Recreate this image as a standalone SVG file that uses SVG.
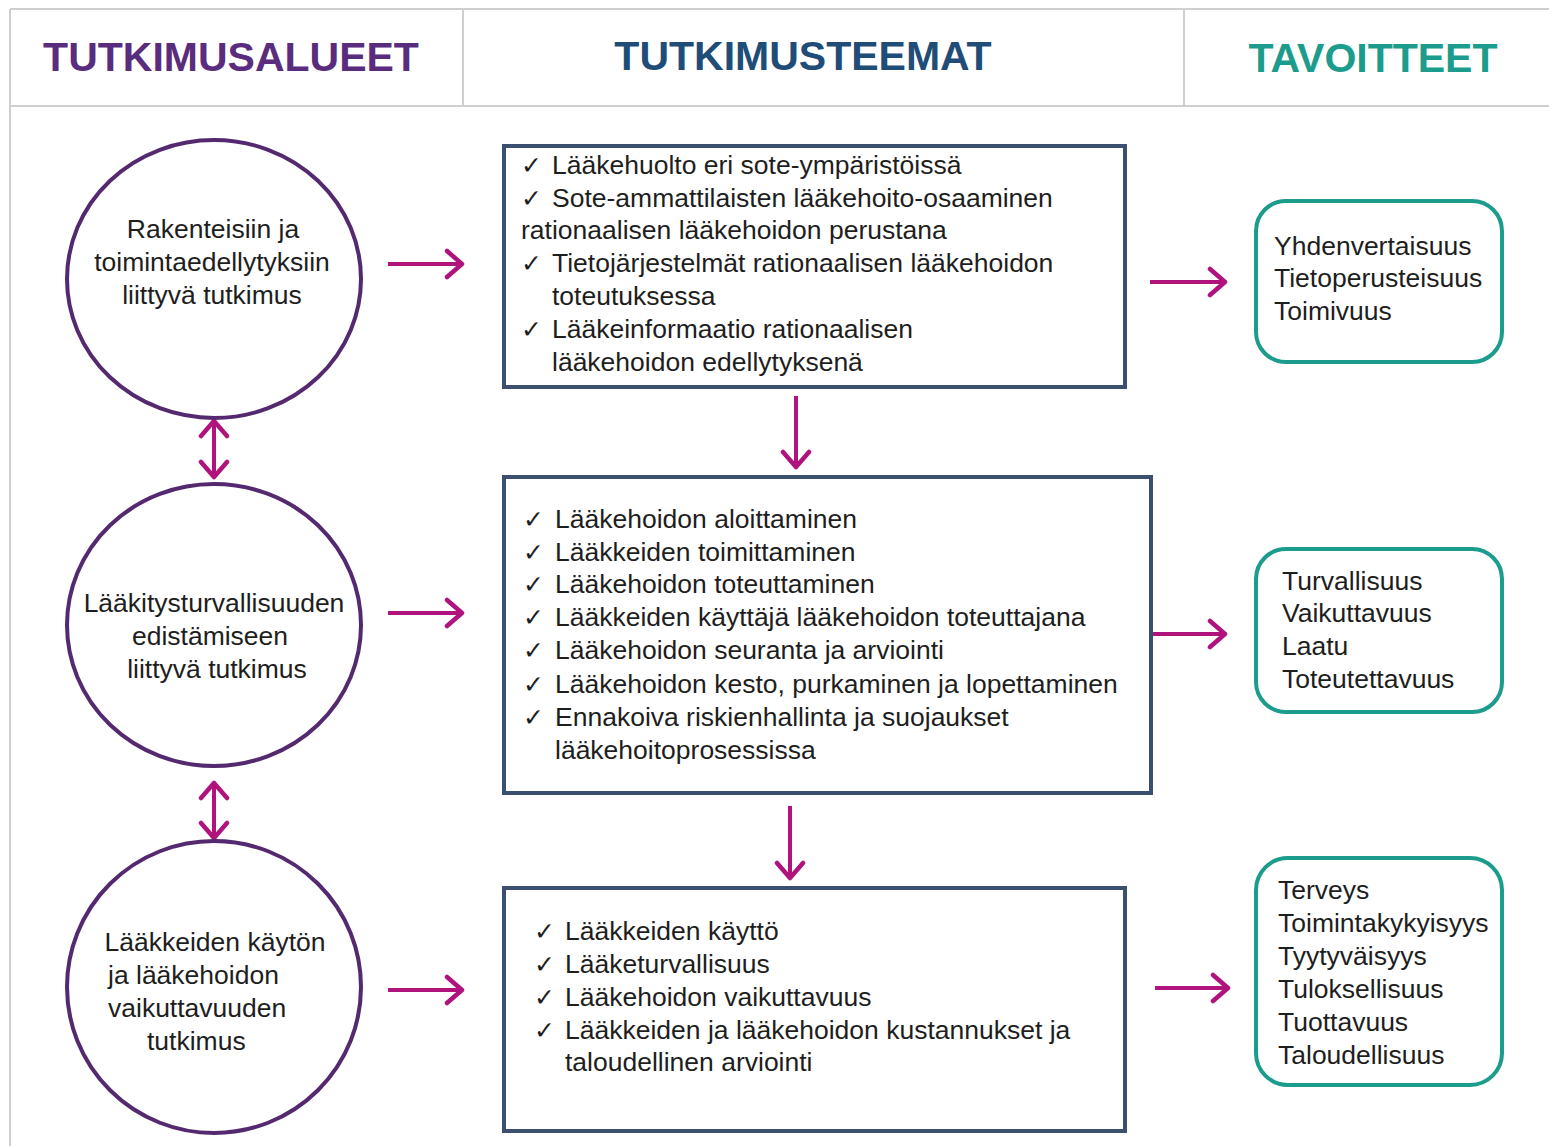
<svg xmlns="http://www.w3.org/2000/svg" width="1549" height="1146" viewBox="0 0 1549 1146">
<style>
.hdr{font-family:"Liberation Sans",Arial,sans-serif;font-weight:bold;font-size:41px;text-anchor:middle}
.t{font-family:"Liberation Sans",Arial,sans-serif;font-size:26.5px;fill:#1e1e1e}
.c{text-anchor:middle}
.chk{font-family:"DejaVu Sans",sans-serif;font-size:25px}
.circ{fill:#fff;stroke:#55296f;stroke-width:4}
.box{fill:#fff;stroke:#3b4f70;stroke-width:4}
.goal{fill:#fff;stroke:#1c9c8c;stroke-width:4}
.grid{stroke:#cfcfcf;stroke-width:2;fill:none}
.arr{stroke:#b0147c;stroke-width:4;fill:none}
</style>
<defs>
<marker id="ah" markerUnits="userSpaceOnUse" markerWidth="24" markerHeight="32" viewBox="0 0 24 32" refX="21" refY="16" orient="auto-start-reverse">
<path d="M6,3 L21,16 L6,29" fill="none" stroke="#b0147c" stroke-width="4.5" stroke-linecap="round" stroke-linejoin="round"/>
</marker>
</defs>
<rect width="1549" height="1146" fill="#fff"/>
<g id="header">
<path class="grid" d="M10,9 H1549 M10,106 H1549 M10,9 V1146 M463,9 V106 M1184,9 V106"/>
<text class="hdr" x="231" y="71" fill="#5a2c7e">TUTKIMUSALUEET</text>
<text class="hdr" x="803" y="70" fill="#1f4d78">TUTKIMUSTEEMAT</text>
<text class="hdr" x="1373" y="72" fill="#1c9c8c">TAVOITTEET</text>
</g>
<g id="connectors">
<line class="arr" x1="388" y1="264" x2="462" y2="264" marker-end="url(#ah)"/>
<line class="arr" x1="388" y1="613" x2="462" y2="613" marker-end="url(#ah)"/>
<line class="arr" x1="388" y1="990" x2="462" y2="990" marker-end="url(#ah)"/>
<line class="arr" x1="1150" y1="282" x2="1225" y2="282" marker-end="url(#ah)"/>
<line class="arr" x1="1153" y1="634" x2="1225" y2="634" marker-end="url(#ah)"/>
<line class="arr" x1="1155" y1="988" x2="1228" y2="988" marker-end="url(#ah)"/>
<line class="arr" x1="796" y1="396" x2="796" y2="467" marker-end="url(#ah)"/>
<line class="arr" x1="790" y1="806" x2="790" y2="878" marker-end="url(#ah)"/>
<line class="arr" x1="214" y1="421" x2="214" y2="477" marker-start="url(#ah)" marker-end="url(#ah)"/>
<line class="arr" x1="214" y1="783" x2="214" y2="838" marker-start="url(#ah)" marker-end="url(#ah)"/>
</g>
<g id="area1">
<ellipse class="circ" cx="214" cy="279" rx="147" ry="139"/>
<text class="t c" x="213" y="238">Rakenteisiin ja</text>
<text class="t c" x="212" y="271">toimintaedellytyksiin</text>
<text class="t c" x="212" y="304">liittyvä tutkimus</text>
</g>
<g id="area2">
<ellipse class="circ" cx="214" cy="625" rx="147" ry="141"/>
<text class="t c" x="214" y="612">Lääkitysturvallisuuden</text>
<text class="t c" x="210" y="645">edistämiseen</text>
<text class="t c" x="217" y="678">liittyvä tutkimus</text>
</g>
<g id="area3">
<ellipse class="circ" cx="214" cy="987" rx="147" ry="146"/>
<text class="t c" x="215" y="951">Lääkkeiden käytön</text>
<text class="t" x="108" y="984">ja lääkehoidon</text>
<text class="t" x="108" y="1017">vaikuttavuuden</text>
<text class="t" x="147" y="1050">tutkimus</text>
</g>
<g id="theme1">
<rect class="box" x="504" y="146" width="621" height="241"/>
<text class="t" y="174"><tspan class="chk" x="521">✓</tspan><tspan x="552">Lääkehuolto eri sote-ympäristöissä</tspan></text>
<text class="t" y="207"><tspan class="chk" x="521">✓</tspan><tspan x="552">Sote-ammattilaisten lääkehoito-osaaminen</tspan></text>
<text class="t" x="521" y="239">rationaalisen lääkehoidon perustana</text>
<text class="t" y="272"><tspan class="chk" x="521">✓</tspan><tspan x="552">Tietojärjestelmät rationaalisen lääkehoidon</tspan></text>
<text class="t" x="552" y="305">toteutuksessa</text>
<text class="t" y="338"><tspan class="chk" x="521">✓</tspan><tspan x="552">Lääkeinformaatio rationaalisen</tspan></text>
<text class="t" x="552" y="371">lääkehoidon edellytyksenä</text>
</g>
<g id="theme2">
<rect class="box" x="504" y="477" width="647" height="316"/>
<text class="t" y="528"><tspan class="chk" x="523">✓</tspan><tspan x="555">Lääkehoidon aloittaminen</tspan></text>
<text class="t" y="561"><tspan class="chk" x="523">✓</tspan><tspan x="555">Lääkkeiden toimittaminen</tspan></text>
<text class="t" y="593"><tspan class="chk" x="523">✓</tspan><tspan x="555">Lääkehoidon toteuttaminen</tspan></text>
<text class="t" y="626"><tspan class="chk" x="523">✓</tspan><tspan x="555">Lääkkeiden käyttäjä lääkehoidon toteuttajana</tspan></text>
<text class="t" y="659"><tspan class="chk" x="523">✓</tspan><tspan x="555">Lääkehoidon seuranta ja arviointi</tspan></text>
<text class="t" y="693"><tspan class="chk" x="523">✓</tspan><tspan x="555">Lääkehoidon kesto, purkaminen ja lopettaminen</tspan></text>
<text class="t" y="726"><tspan class="chk" x="523">✓</tspan><tspan x="555">Ennakoiva riskienhallinta ja suojaukset</tspan></text>
<text class="t" x="555" y="759">lääkehoitoprosessissa</text>
</g>
<g id="theme3">
<rect class="box" x="504" y="888" width="621" height="243"/>
<text class="t" y="940"><tspan class="chk" x="534">✓</tspan><tspan x="565">Lääkkeiden käyttö</tspan></text>
<text class="t" y="973"><tspan class="chk" x="534">✓</tspan><tspan x="565">Lääketurvallisuus</tspan></text>
<text class="t" y="1006"><tspan class="chk" x="534">✓</tspan><tspan x="565">Lääkehoidon vaikuttavuus</tspan></text>
<text class="t" y="1039"><tspan class="chk" x="534">✓</tspan><tspan x="565">Lääkkeiden ja lääkehoidon kustannukset ja</tspan></text>
<text class="t" x="565" y="1071">taloudellinen arviointi</text>
</g>
<g id="goal1">
<rect class="goal" x="1256" y="201" width="246" height="161" rx="30"/>
<text class="t" x="1274" y="255">Yhdenvertaisuus</text>
<text class="t" x="1274" y="287">Tietoperusteisuus</text>
<text class="t" x="1274" y="320">Toimivuus</text>
</g>
<g id="goal2">
<rect class="goal" x="1256" y="549" width="246" height="163" rx="30"/>
<text class="t" x="1282" y="590">Turvallisuus</text>
<text class="t" x="1282" y="622">Vaikuttavuus</text>
<text class="t" x="1282" y="655">Laatu</text>
<text class="t" x="1282" y="688">Toteutettavuus</text>
</g>
<g id="goal3">
<rect class="goal" x="1256" y="858" width="246" height="227" rx="32"/>
<text class="t" x="1278" y="899">Terveys</text>
<text class="t" x="1278" y="932">Toimintakykyisyys</text>
<text class="t" x="1278" y="965">Tyytyväisyys</text>
<text class="t" x="1278" y="998">Tuloksellisuus</text>
<text class="t" x="1278" y="1031">Tuottavuus</text>
<text class="t" x="1278" y="1064">Taloudellisuus</text>
</g>
</svg>
